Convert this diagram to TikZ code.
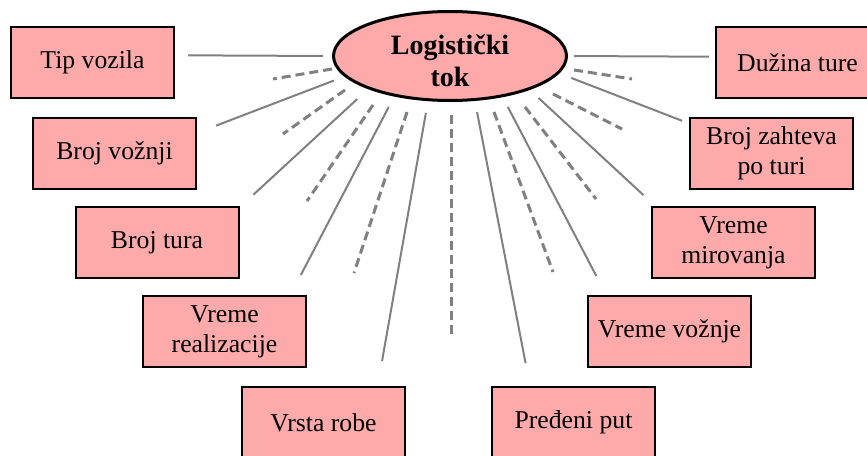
\documentclass[tikz,border=0pt]{standalone}
\usepackage{fontspec}
\setmainfont{Liberation Serif}
\usepackage{tikz}
\usetikzlibrary {shapes.geometric}
\usepackage{xcolor}
\definecolor{boxpink}{HTML}{FFAAAA}
\definecolor{raygray}{HTML}{808080}

\begin{document}
\begin{tikzpicture}[x=0.5pt,y=-0.5pt,
        param/.style={draw,fill=boxpink,line width=1pt,minimum width=81.5pt,minimum height=35.5pt,inner sep=2pt,align=center,font=\fontsize{12.85}{15}\selectfont},
        link/.style={draw=raygray,line width=1pt},
        ray/.style={draw=raygray,line width=1.5pt,dash pattern=on 4.5pt off 2.5pt}]
        \path[use as bounding box] (0,0) rectangle (867,455);
        \clip (0,0) rectangle (867,455);
        % dashed rays
        \foreach \xa/\ya/\xb/\yb in {332/69/273/79, 345/90/283/134, 373/105/307/201, 407/112/354/273, 451/115/451/338,
                574/70/632/79, 553/94/622/129, 525/107/596/199, 494/112/553/272}
            \draw[ray] (\xa,\ya) -- (\xb,\yb);
        \node [ellipse,draw,fill=boxpink,line width=1.5pt,minimum width=116.5pt,minimum height=44.5pt,inner sep=0pt,align=center,font=\fontsize{14}{16}\selectfont\bfseries] (tok) at (450,56) {\rule{0pt}{15pt}Logistički\\tok};
        \node [param] (tip) at (92.5,62.5) {Tip vozila};
        \node [param] (voznji) at (114.5,153.5) {Broj vožnji};
        \node [param] (tura) at (157,242.5) {Broj tura};
        \node [param] (realiz) at (224.5,331.5) {Vreme\\realizacije};
        \node [param] (roba) at (323.5,422.5) {Vrsta robe};
        \node [param] (duzina) at (797.5,62.5) {Dužina ture};
        \node [param] (zahtev) at (771.5,153.5) {Broj zahteva\\po turi};
        \node [param] (mirov) at (733.5,242.5) {Vreme\\mirovanja};
        \node [param] (voznja) at (669.5,331.5) {Vreme vožnje};
        \node [param] (predjeni) at (573.5,422.5) {Pređeni put};
        % solid links
        \foreach \n/\s/\e/\ss/\se in {tip/180/5/4.5/6.5, voznji/191/14/5.6/10.2, tura/202/23/7.4/9.5, realiz/216/29/5.9/11.3, roba/244/34/5.9/12.7,
                duzina/0/176/3/3, zahtev/351/160/6.4/3.7, mirov/337/155/6/8, voznja/322/150/5.5/10.7, predjeni/299/140/5.6/11.7}
            \draw[link,shorten <=\ss pt,shorten >=\se pt] (tok.\s) -- (\n.\e);
\end{tikzpicture}
\end{document}
